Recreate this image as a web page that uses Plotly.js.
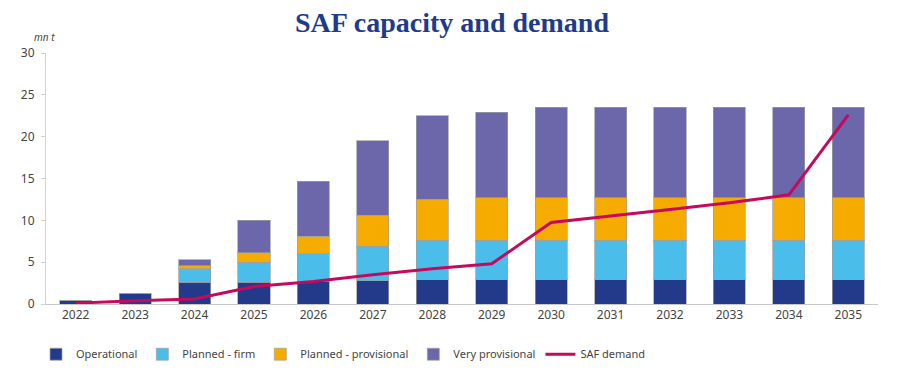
<!DOCTYPE html>
<html>
<head>
<meta charset="utf-8">
<script src="https://cdn.plot.ly/plotly-3.0.1.min.js"></script>
<style>html,body{margin:0;padding:0;background:#fff;}#chart{width:904px;height:370px;}</style>
</head>
<body>
<div id="chart"></div>
<script>
const years = ['2022','2023','2024','2025','2026','2027','2028','2029','2030','2031','2032','2033','2034','2035'];
const operational = [0.4, 1.3, 2.6, 2.6, 2.7, 2.8, 2.9, 2.9, 2.9, 2.9, 2.9, 2.9, 2.9, 2.9];
const plannedFirm = [0, 0, 1.6, 2.4, 3.3, 4.1, 4.7, 4.7, 4.7, 4.7, 4.7, 4.7, 4.7, 4.7];
const plannedProvisional = [0, 0, 0.4, 1.1, 2.1, 3.7, 4.9, 5.1, 5.1, 5.1, 5.1, 5.1, 5.1, 5.1];
const veryProvisional = [0, 0, 0.7, 3.9, 6.6, 8.9, 10.0, 10.2, 10.8, 10.8, 10.8, 10.8, 10.8, 10.8];
const safDemand = [0.1, 0.4, 0.6, 2.1, 2.7, 3.5, 4.2, 4.8, 9.75, 10.5, 11.3, 12.1, 13.05, 22.6];

const outline = {color: 'rgba(160,160,160,0.7)', width: 1};
const barTrace = (name, y, color) => ({
  type: 'bar', name: name, x: years, y: y,
  marker: {color: color, line: outline},
  hoverinfo: 'x+y+name'
});
const data = [
  barTrace('Operational', operational, '#233A8A'),
  barTrace('Planned - firm', plannedFirm, '#4BBDEB'),
  barTrace('Planned - provisional', plannedProvisional, '#F5AB00'),
  barTrace('Very provisional', veryProvisional, '#6C67AA'),
  {type: 'scatter', mode: 'lines', name: 'SAF demand', x: years, y: safDemand,
   line: {color: '#C5095C', width: 3}}
];
const layout = {
  width: 904, height: 370,
  margin: {l: 46, r: 26, t: 53, b: 66, autoexpand: false},
  paper_bgcolor: '#fff', plot_bgcolor: '#fff',
  barmode: 'stack', bargap: 0.46,
  font: {family: 'Noto Sans, sans-serif', size: 11, color: '#444'},
  title: {text: '<b>SAF capacity and demand</b>', x: 0.5, xanchor: 'center', y: 0.94, yanchor: 'middle',
          font: {family: 'Liberation Serif, serif', size: 28, color: '#1F3B8C'}},
  xaxis: {type: 'category', showgrid: false, showline: true, linecolor: '#c8c8c8', linewidth: 1,
          ticks: '', tickfont: {size: 12, color: '#444'}, zeroline: false},
  yaxis: {range: [0, 30], dtick: 5, showgrid: false, showline: true, linecolor: '#d0d0d0', linewidth: 1,
          ticks: 'outside', ticklen: 4, tickcolor: '#d0d0d0', ticklabelstandoff: 4,
          tickfont: {size: 12, color: '#444'}, zeroline: false},
  annotations: [{text: '<i>mn t</i>', xref: 'paper', yref: 'paper', x: -0.002, y: 1.064, xanchor: 'center', yanchor: 'middle',
                 showarrow: false, font: {size: 10, color: '#444'}}],
  legend: {orientation: 'h', x: -0.012, xanchor: 'left', y: -0.2, yanchor: 'middle',
           font: {size: 11, color: '#444'}, traceorder: 'normal', itemwidth: 30},
  showlegend: true
};
Plotly.newPlot('chart', data, layout, {displayModeBar: false, staticPlot: true});
</script>
</body>
</html>
